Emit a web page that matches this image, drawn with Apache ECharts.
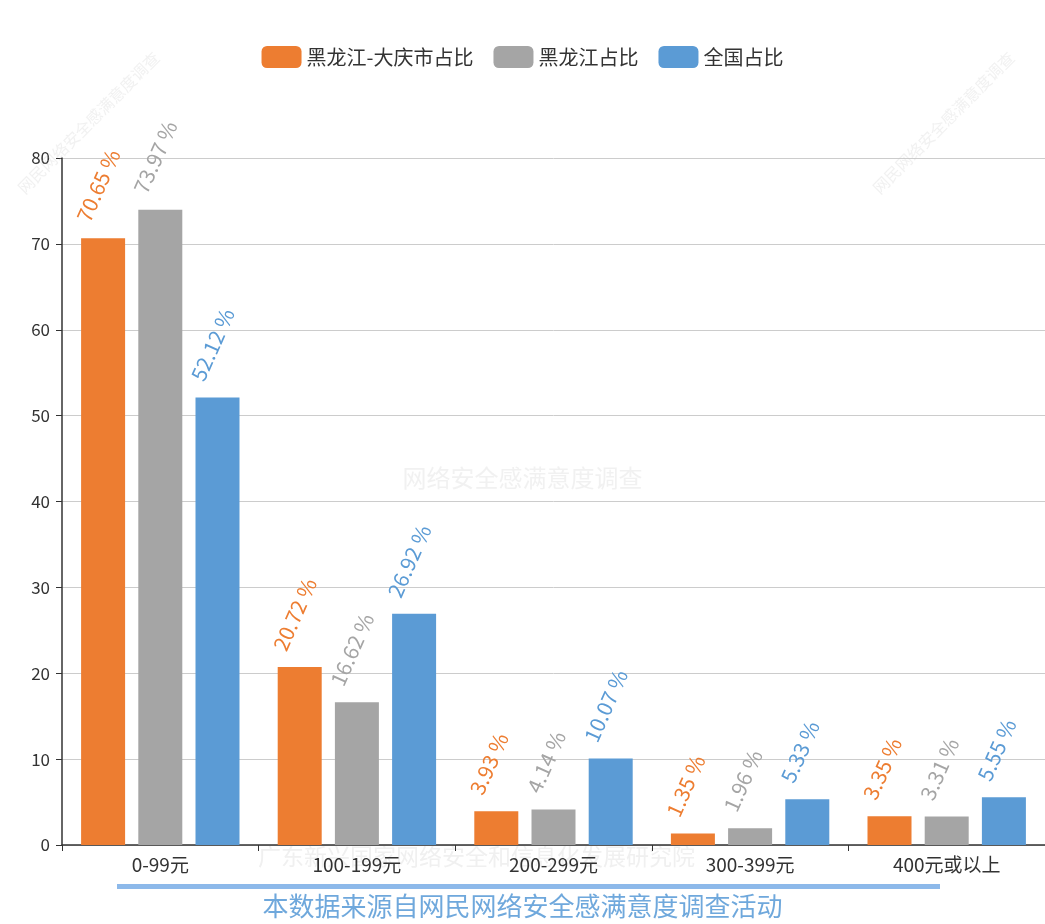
<!DOCTYPE html>
<html>
<head>
<meta charset="utf-8">
<script src="https://cdn.jsdelivr.net/npm/echarts@6/dist/echarts.min.js"></script>
<style>html,body{margin:0;padding:0;background:#fff;}#main{width:1045px;height:924px;}</style>
</head>
<body>
<div id="main"></div>
<script>
var categories = ['0-99元', '100-199元', '200-299元', '300-399元', '400元或以上'];
var seriesNames = ['黑龙江-大庆市占比', '黑龙江占比', '全国占比'];
var daqing = [70.65, 20.72, 3.93, 1.35, 3.35];
var heilongjiang = [73.97, 16.62, 4.14, 1.96, 3.31];
var national = [52.12, 26.92, 10.07, 5.33, 5.55];
var yTicks = [0, 10, 20, 30, 40, 50, 60, 70, 80];
var colors = ['#ED7D31', '#A5A5A5', '#5B9BD5'];
var font = '"Noto Sans CJK SC", "Noto Sans", sans-serif';

var chart = echarts.init(document.getElementById('main'));
function mk(name, data, color) {
  return {
    name: name, type: 'bar', data: data, barWidth: 44, barGap: '30%',
    itemStyle: { color: color },
    label: {
      show: true, position: 'top', rotate: 66, align: 'left', verticalAlign: 'middle',
      distance: 0, offset: [8, -26], formatter: '{c} %', color: color, fontSize: 21, fontFamily: font
    }
  };
}
var wmColor = 'rgba(200,200,200,0.25)';
chart.setOption({
  animation: false,
  color: colors,
  textStyle: { fontFamily: font },
  legend: {
    top: 41, left: 'center', itemWidth: 40, itemHeight: 22, itemGap: 20,
    icon: 'roundRect',
    textStyle: { fontSize: 20, color: '#333', fontFamily: font },
    data: seriesNames
  },
  grid: { left: 62, right: 0, top: 158, bottom: 79, containLabel: false },
  xAxis: {
    type: 'category', data: categories,
    axisLine: { lineStyle: { color: '#333', width: 1.5 } },
    axisTick: { show: true, length: 6, lineStyle: { color: '#333' } },
    axisLabel: { fontSize: 19, color: '#333', margin: 10, fontFamily: font }
  },
  yAxis: {
    type: 'value', min: yTicks[0], max: yTicks[yTicks.length - 1], interval: 10,
    axisLine: { show: true, lineStyle: { color: '#333', width: 1.5 } },
    axisTick: { show: true, length: 6, lineStyle: { color: '#333' } },
    axisLabel: { fontSize: 17, color: '#333', margin: 12, fontFamily: font },
    splitLine: { lineStyle: { color: '#ccc' } }
  },
  graphic: [
    { type: 'text', left: 'center', top: 466, z: -1, style: { text: '网络安全感满意度调查', fontSize: 24, fill: wmColor, fontFamily: font } },
    { type: 'text', left: 258, top: 845, z: -1, style: { text: '广东新兴国家网络安全和信息化发展研究院', fontSize: 23, fill: '#f0f0f0', fontFamily: font } },
    { type: 'text', x: 15, y: 185, rotation: Math.PI / 4, z: 10, style: { text: '网民网络安全感满意度调查', fontSize: 16, fill: wmColor, fontFamily: font } },
    { type: 'text', x: 870, y: 185, rotation: Math.PI / 4, z: 10, style: { text: '网民网络安全感满意度调查', fontSize: 16, fill: wmColor, fontFamily: font } },
    { type: 'rect', shape: { x: 117, y: 884, width: 823, height: 5 }, style: { fill: '#8DB9EA' } },
    { type: 'text', left: 'center', top: 893, style: { text: '本数据来源自网民网络安全感满意度调查活动', fontSize: 26, fill: '#6FA8DC', fontFamily: font } }
  ],
  series: [
    mk(seriesNames[0], daqing, colors[0]),
    mk(seriesNames[1], heilongjiang, colors[1]),
    mk(seriesNames[2], national, colors[2])
  ]
});
</script>
</body>
</html>
